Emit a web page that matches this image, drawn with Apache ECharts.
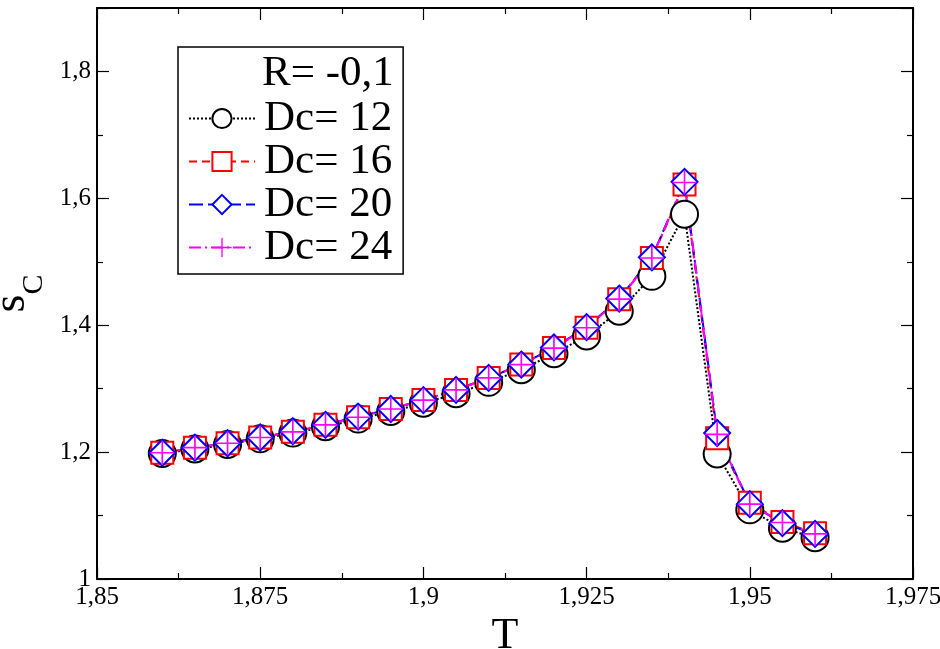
<!DOCTYPE html>
<html>
<head>
<meta charset="utf-8">
<script src="https://cdn.jsdelivr.net/npm/echarts@6/dist/echarts.min.js"></script>
<style>
  html, body { margin: 0; padding: 0; background: #fff; }
  #myChart { width: 940px; height: 649px; }
</style>
</head>
<body>
<div id="myChart"></div>
<script>
// temperatures
const T = [1.86, 1.865, 1.87, 1.875, 1.88, 1.885, 1.89, 1.895, 1.9, 1.905, 1.91,
  1.915, 1.92, 1.925, 1.93, 1.935, 1.94, 1.945, 1.95, 1.955, 1.96];

const dc12 = [1.198, 1.205, 1.212, 1.221, 1.230, 1.240, 1.252, 1.264, 1.277, 1.292, 1.310,
  1.330, 1.355, 1.383, 1.422, 1.477, 1.575, 1.197, 1.109, 1.080, 1.065];
const dc16 = [1.199, 1.207, 1.214, 1.223, 1.232, 1.243, 1.255, 1.268, 1.282, 1.298, 1.317,
  1.338, 1.364, 1.396, 1.441, 1.506, 1.622, 1.222, 1.120, 1.090, 1.072];
const dc20 = [1.199, 1.207, 1.214, 1.223, 1.233, 1.243, 1.256, 1.268, 1.282, 1.298, 1.317,
  1.338, 1.365, 1.397, 1.442, 1.507, 1.626, 1.230, 1.118, 1.088, 1.071];
const dc24 = [1.199, 1.207, 1.214, 1.223, 1.232, 1.243, 1.255, 1.268, 1.282, 1.298, 1.317,
  1.338, 1.364, 1.396, 1.441, 1.506, 1.625, 1.228, 1.118, 1.089, 1.071];

const xTicks = [1.85, 1.875, 1.9, 1.925, 1.95, 1.975];
const yTicks = [1, 1.2, 1.4, 1.6, 1.8];

const FONT = "Liberation Serif";
const comma = v => String(Math.round(v * 1000) / 1000).replace(".", ",");
const pair = arr => T.map((t, i) => [t, arr[i]]);

let myChart = echarts.init(document.getElementById("myChart"));

const plusPath = "path://M-1,-0.07L-0.07,-0.07L-0.07,-1L0.07,-1L0.07,-0.07L1,-0.07L1,0.07L0.07,0.07L0.07,1L-0.07,1L-0.07,0.07L-1,0.07Z";

function axisCommon(show) {
  return {
    axisLine: { show: true, onZero: false, lineStyle: { color: "#000", width: 2 } },
    axisTick: { show: true, inside: true, length: 12, lineStyle: { color: "#000", width: 1.2 } },
    minorTick: { show: true, splitNumber: 2, length: 6, lineStyle: { color: "#000", width: 1.2 } },
    splitLine: { show: false },
    axisLabel: show
      ? { show: true, fontFamily: FONT, fontSize: 25, color: "#000", margin: 6, formatter: comma }
      : { show: false },
  };
}

let option = {
  animation: false,
  backgroundColor: "#fff",
  grid: { left: 97, right: 27, top: 8, bottom: 70, containLabel: false, outerBoundsMode: "none" },
  xAxis: [
    Object.assign({
      type: "value", min: xTicks[0], max: xTicks[xTicks.length - 1], interval: 0.025,
      position: "bottom",
      name: "T", nameLocation: "middle", nameGap: 27,
      nameTextStyle: { fontFamily: FONT, fontSize: 44, color: "#000", verticalAlign: "top" },
    }, axisCommon(true)),
    Object.assign({
      type: "value", min: xTicks[0], max: xTicks[xTicks.length - 1], interval: 0.025,
      position: "top",
    }, axisCommon(false)),
  ],
  yAxis: [
    Object.assign({
      type: "value", min: 1, max: 1.9, interval: 0.2,
      position: "left",
      name: "{s|s}{c|C}", nameLocation: "middle", nameGap: 47, nameRotate: 90,
      nameTextStyle: {
        color: "#000",
        rich: {
          s: { fontFamily: FONT, fontSize: 46, color: "#000", verticalAlign: "bottom" },
          c: { fontFamily: FONT, fontSize: 30, color: "#000", verticalAlign: "bottom", padding: [0, 0, -14, 0] },
        },
      },
    }, axisCommon(true)),
    Object.assign({
      type: "value", min: 1, max: 1.9, interval: 0.2,
      position: "right",
    }, axisCommon(false)),
  ],
  legend: {
    left: 178, top: 47,
    orient: "vertical",
    padding: [50, 11, 5, 10],
    itemGap: 0,
    itemWidth: 66,
    itemHeight: 24,
    borderColor: "#000",
    borderWidth: 1.5,
    borderRadius: 0,
    backgroundColor: "#fff",
    textStyle: { fontFamily: FONT, fontSize: 43, lineHeight: 40, color: "#000", padding: [0, 0, 0, 4] },
    data: ["Dc= 12", "Dc= 16", "Dc= 20", "Dc= 24"],
  },
  graphic: [
    {
      type: "text", left: 262, top: 52, z: 100,
      style: { text: "R= -0,1", font: "43px 'Liberation Serif'", fill: "#000" },
    },
  ],
  series: [
    {
      name: "Dc= 12", type: "line", data: pair(dc12),
      symbol: "emptyCircle", symbolSize: 27,
      lineStyle: { color: "#000", width: 2, type: "dotted" },
      itemStyle: { color: "#000", borderWidth: 1.5 },
    },
    {
      name: "Dc= 16", type: "line", data: pair(dc16),
      symbol: "emptyRect", symbolSize: 22,
      lineStyle: { color: "#ff0000", width: 2, type: [8, 5] },
      itemStyle: { color: "#ff0000", borderWidth: 1.5 },
    },
    {
      name: "Dc= 20", type: "line", data: pair(dc20),
      symbol: "emptyDiamond", symbolSize: 26,
      lineStyle: { color: "#0000ff", width: 2, type: [14, 5] },
      itemStyle: { color: "#0000ff", borderWidth: 1.5 },
    },
    {
      name: "Dc= 24", type: "line", data: pair(dc24),
      symbol: plusPath, symbolSize: 24, symbolKeepAspect: true,
      lineStyle: { color: "#ff00ff", width: 2, type: [12, 4, 2, 4] },
      itemStyle: { color: "#ff00ff" },
    },
  ],
};
// y axis in reference stops labelling at 1,8
option.yAxis[0].axisLabel.showMaxLabel = false;
myChart.setOption(option);
</script>
</body>
</html>
